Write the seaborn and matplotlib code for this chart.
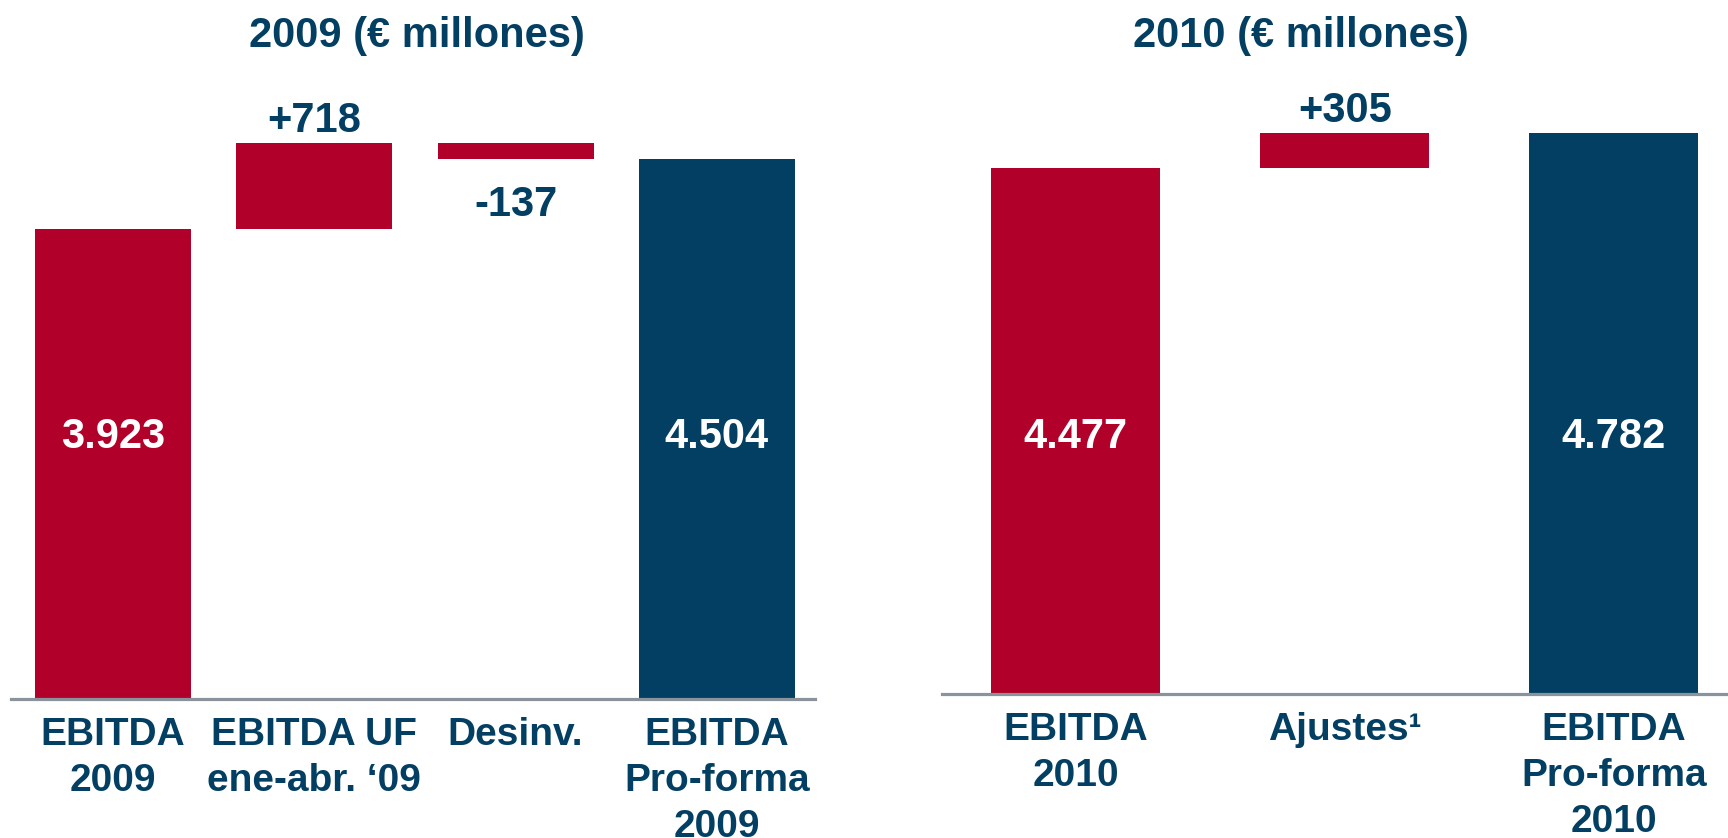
import numpy as np
import pandas as pd
import matplotlib
matplotlib.use("Agg")
import matplotlib.pyplot as plt
import seaborn as sns

# ================== datos ==================
cats_2009 = ["EBITDA\n2009", "EBITDA UF\nene-abr. \u201809", "Desinv.", "EBITDA\nPro-forma\n2009"]
vals_2009 = [3923, 718, -137, 4504]
tipo_2009 = ["total", "delta", "delta", "total"]
lbl_2009 = ["3.923", "+718", "-137", "4.504"]

cats_2010 = ["EBITDA\n2010", "Ajustes\u00b9", "EBITDA\nPro-forma\n2010"]
vals_2010 = [4477, 305, 4782]
tipo_2010 = ["total", "delta", "total"]
lbl_2010 = ["4.477", "+305", "4.782"]

titulo_2009 = "2009 (\u20ac millones)"
titulo_2010 = "2010 (\u20ac millones)"
# ===========================================

ROJO = "#B10029"
AZUL = "#023F62"
GRIS = "#8A929B"


def tramos(vals, tipos):
    # inicio / fin de cada barra de la cascada
    lo, hi, acum = [], [], 0
    for v, t in zip(vals, tipos):
        if t == "total":
            lo.append(0); hi.append(v); acum = v
        else:
            lo.append(min(acum, acum + v)); hi.append(max(acum, acum + v)); acum += v
    return lo, hi


def panel(ax, cats, vals, tipos, labels, colores, ancho, xlim, off_up):
    lo, hi = tramos(vals, tipos)
    df = pd.DataFrame({"cat": cats, "hi": hi, "lo": lo})
    sns.barplot(data=df, x="cat", y="hi", hue="cat", order=cats, palette=colores,
                legend=False, width=ancho, linewidth=0, saturation=1, ax=ax)
    for p, l, h in zip(ax.patches, lo, hi):
        p.set_y(l)
        p.set_height(h - l)

    for i, (v, t, txt) in enumerate(zip(vals, tipos, labels)):
        if t == "total":
            ax.text(i, 2190, txt, color="white", fontsize=30, fontweight="bold",
                    ha="center", va="center")
        elif v >= 0:
            ax.annotate(txt, (i, hi[i]), xytext=(0, off_up), textcoords="offset points",
                        color=AZUL, fontsize=30, fontweight="bold", ha="center", va="center")
        else:
            ax.annotate(txt, (i, lo[i]), xytext=(0, -33), textcoords="offset points",
                        color=AZUL, fontsize=30, fontweight="bold", ha="center", va="center")

    ax.set_xlim(*xlim)
    ax.set_ylim(0, 5000)
    ax.set_xlabel("")
    ax.set_ylabel("")
    ax.set_yticks([])
    ax.tick_params(axis="x", length=0, pad=13, labelsize=28, labelcolor=AZUL)
    for lab in ax.get_xticklabels():
        lab.set_fontweight("bold")
        lab.set_multialignment("center")
        lab.set_linespacing(1.36)
    for s in ["top", "left", "right"]:
        ax.spines[s].set_visible(False)
    ax.spines["bottom"].set_color(GRIS)
    ax.spines["bottom"].set_linewidth(2.3)


sns.set_theme(style="white")
plt.rcParams["font.family"] = ["Liberation Sans", "DejaVu Sans"]

fig = plt.figure(figsize=(17.28, 8.38), dpi=100)
ax1 = fig.add_axes([0.0064, 0.1659, 0.4653, 0.7148])
ax2 = fig.add_axes([0.5451, 0.1718, 0.4549, 0.7005])

panel(ax1, cats_2009, vals_2009, tipo_2009, lbl_2009, [ROJO, ROJO, ROJO, AZUL],
      0.776, (-0.507, 3.488), 16)
panel(ax2, cats_2010, vals_2010, tipo_2010, lbl_2010, [ROJO, ROJO, AZUL],
      0.628, (-0.498, 2.424), 15.5)

fig.text(417 / 1728, 1 - 36 / 838, titulo_2009, color=AZUL, fontsize=30,
         fontweight="bold", ha="center", va="center")
fig.text(1301 / 1728, 1 - 36 / 838, titulo_2010, color=AZUL, fontsize=30,
         fontweight="bold", ha="center", va="center")

fig.savefig("out.png", dpi=100, facecolor="white")
